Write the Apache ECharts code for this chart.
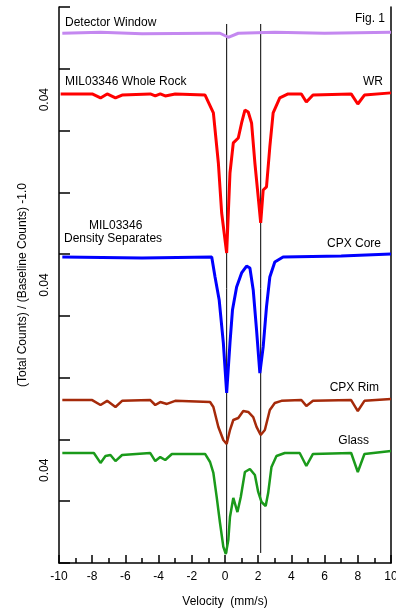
<!DOCTYPE html>
<html>
<head>
<meta charset="utf-8">
<script src="https://cdn.jsdelivr.net/npm/echarts@6/dist/echarts.min.js"></script>
<style>
  html, body { margin: 0; padding: 0; background: #fff; }
  #chart { width: 396px; height: 612px; }
</style>
</head>
<body>
<div id="chart"></div>
<script>
// velocity (mm/s) / offset absorption values
var detectorWindow = [
  [-9.8, 0.3430], [-7.5, 0.3436], [-5.0, 0.3427], [-1.0, 0.3430], [-0.3, 0.3430],
  [0.2, 0.3404], [0.8, 0.3430], [3.0, 0.3436], [6.0, 0.3430], [10.0, 0.3436]
];
var wholeRock = [
  [-9.9, 0.3037], [-8.0, 0.3037], [-7.5, 0.3011], [-7.1, 0.3037], [-6.6, 0.3011],
  [-6.2, 0.3030], [-4.5, 0.3037], [-4.2, 0.3024], [-3.9, 0.3037], [-3.6, 0.3024],
  [-3.0, 0.3037], [-1.2, 0.3030], [-0.7, 0.2914], [-0.4, 0.2590], [-0.2, 0.2266],
  [0.1, 0.2007], [0.3, 0.2525], [0.5, 0.2720], [0.8, 0.2752], [1.0, 0.2849],
  [1.2, 0.2933], [1.4, 0.2920], [1.6, 0.2849], [1.8, 0.2590], [2.0, 0.2370],
  [2.15, 0.2202], [2.3, 0.2415], [2.5, 0.2435], [2.7, 0.2694], [2.9, 0.2914],
  [3.3, 0.3011], [3.8, 0.3037], [4.6, 0.3037], [4.9, 0.2985], [5.3, 0.3030],
  [7.6, 0.3037], [8.0, 0.2972], [8.4, 0.3030], [10.0, 0.3044]
];
var cpxCore = [
  [-9.8, 0.1981], [-5.0, 0.1975], [-0.8, 0.1981], [-0.6, 0.1852], [-0.35, 0.1703],
  [-0.1, 0.1425], [0.1, 0.1101], [0.3, 0.1425], [0.45, 0.1638], [0.7, 0.1787],
  [1.0, 0.1878], [1.3, 0.1923], [1.5, 0.1910], [1.7, 0.1768], [1.9, 0.1509],
  [2.1, 0.1230], [2.3, 0.1399], [2.5, 0.1658], [2.7, 0.1852], [3.0, 0.1949],
  [3.5, 0.1981], [7.0, 0.1988], [10.0, 0.2001]
];
var cpxRim = [
  [-9.8, 0.1055], [-8.0, 0.1055], [-7.5, 0.1023], [-7.1, 0.1050], [-6.6, 0.1010],
  [-6.2, 0.1050], [-4.5, 0.1055], [-4.2, 0.1023], [-3.9, 0.1042], [-3.5, 0.1030],
  [-3.0, 0.1050], [-0.9, 0.1042], [-0.7, 0.1010], [-0.4, 0.0881], [-0.1, 0.0796],
  [0.1, 0.0770], [0.3, 0.0861], [0.5, 0.0926], [0.8, 0.0939], [1.1, 0.0984],
  [1.4, 0.0978], [1.7, 0.0945], [1.9, 0.0881], [2.15, 0.0829], [2.4, 0.0861],
  [2.7, 0.0991], [3.0, 0.1036], [3.4, 0.1050], [4.6, 0.1055], [4.9, 0.1017],
  [5.3, 0.1050], [7.6, 0.1055], [8.0, 0.0984], [8.4, 0.1050], [10.0, 0.1062]
];
var glass = [
  [-9.8, 0.0712], [-7.9, 0.0712], [-7.5, 0.0648], [-7.2, 0.0693], [-6.9, 0.0699],
  [-6.6, 0.0660], [-6.2, 0.0699], [-4.5, 0.0712], [-4.2, 0.0660], [-3.9, 0.0686],
  [-3.6, 0.0667], [-3.2, 0.0706], [-1.2, 0.0706], [-0.9, 0.0654], [-0.7, 0.0583],
  [-0.5, 0.0427], [-0.3, 0.0259], [-0.1, 0.0104], [0.05, 0.0058], [0.2, 0.0149],
  [0.3, 0.0298], [0.5, 0.0421], [0.75, 0.0330], [0.95, 0.0427], [1.2, 0.0589],
  [1.5, 0.0609], [1.8, 0.0570], [2.0, 0.0460], [2.2, 0.0395], [2.45, 0.0369],
  [2.6, 0.0453], [2.8, 0.0622], [3.1, 0.0693], [3.6, 0.0712], [4.5, 0.0712],
  [4.9, 0.0628], [5.3, 0.0706], [7.6, 0.0712], [8.0, 0.0589], [8.4, 0.0706],
  [10.0, 0.0725]
];
// vertical reference lines (velocity) and their extent
var refVelocities = [0.1, 2.15];
var refRange = [0.0065, 0.349];
// scale bar labels sit midway between ticks
var scaleLabelValues = [0.30, 0.18, 0.06];
var scaleLabelText = '0.04';

var FONT = 'Liberation Sans, Arial, sans-serif';

function lineSeries(name, data, color, width) {
  return {
    name: name,
    type: 'line',
    data: data,
    showSymbol: false,
    symbol: 'none',
    lineStyle: { color: color, width: width },
    z: 3
  };
}

function txt(x, y, text, align) {
  return {
    type: 'text',
    left: align === 'right' ? null : x,
    right: align === 'right' ? x : null,
    top: y,
    style: { text: text, fill: '#000', font: '12px ' + FONT }
  };
}

var chart = echarts.init(document.getElementById('chart'));
var series = [
  lineSeries('Detector Window', detectorWindow, '#c488f0', 3),
  lineSeries('WR', wholeRock, '#ff0000', 3),
  lineSeries('CPX Core', cpxCore, '#0000ff', 3),
  lineSeries('CPX Rim', cpxRim, '#a52a0a', 2.5),
  lineSeries('Glass', glass, '#1a9a1a', 2.5)
];
refVelocities.forEach(function (v) {
  series.push({
    type: 'line',
    data: [[v, refRange[0]], [v, refRange[1]]],
    showSymbol: false,
    symbol: 'none',
    lineStyle: { color: '#000', width: 1 },
    z: 2
  });
});

var option = {
  animation: false,
  backgroundColor: '#fff',
  grid: { left: 59, right: 5, top: 7, bottom: 49, outerBoundsMode: 'none' },
  xAxis: {
    type: 'value',
    min: -10,
    max: 10,
    interval: 2,
    name: 'Velocity  (mm/s)',
    nameLocation: 'middle',
    nameGap: 33,
    nameTextStyle: { fontFamily: FONT, fontSize: 12, color: '#000' },
    axisLine: { onZero: false, lineStyle: { color: '#000', width: 1.5 } },
    axisTick: { inside: true, length: 8, lineStyle: { color: '#000', width: 1.5 } },
    minorTick: { show: true, splitNumber: 2, length: 5, lineStyle: { color: '#000', width: 1.5 } },
    axisLabel: { color: '#000', fontFamily: FONT, fontSize: 12, margin: 8 },
    splitLine: { show: false }
  },
  yAxis: [
    {
      type: 'value',
      min: 0,
      max: 0.36,
      interval: 0.04,
      position: 'left',
      name: '(Total Counts) / (Baseline Counts) -1.0',
      nameLocation: 'middle',
      nameGap: 30,
      nameTextStyle: { fontFamily: FONT, fontSize: 12, color: '#000' },
      axisLine: { show: true, onZero: false, lineStyle: { color: '#000', width: 1.5 } },
      axisTick: { inside: true, length: 11, lineStyle: { color: '#000', width: 1.5 } },
      axisLabel: { show: false },
      splitLine: { show: false }
    },
    {
      type: 'value',
      min: 0,
      max: 0.36,
      interval: 0.02,
      position: 'left',
      axisLine: { show: false, onZero: false },
      axisTick: { show: false },
      splitLine: { show: false },
      axisLabel: {
        rotate: 90,
        margin: 8,
        color: '#000',
        fontFamily: FONT,
        fontSize: 12,
        formatter: function (val) {
          for (var i = 0; i < scaleLabelValues.length; i++) {
            if (Math.abs(val - scaleLabelValues[i]) < 1e-6) return scaleLabelText;
          }
          return '';
        }
      }
    },
    {
      type: 'value',
      min: 0,
      max: 0.36,
      position: 'right',
      axisLine: { show: true, onZero: false, lineStyle: { color: '#000', width: 1.5 } },
      axisTick: { show: false },
      axisLabel: { show: false },
      splitLine: { show: false }
    }
  ],
  series: series,
  graphic: [
    txt(65, 17, 'Detector Window'),
    txt(11, 13, 'Fig. 1', 'right'),
    txt(65, 76, 'MIL03346 Whole Rock'),
    txt(13, 76, 'WR', 'right'),
    txt(89, 220, 'MIL03346'),
    txt(64, 233, 'Density Separates'),
    txt(15, 238, 'CPX Core', 'right'),
    txt(17, 382, 'CPX Rim', 'right'),
    txt(27, 435, 'Glass', 'right')
  ]
};
chart.setOption(option);
</script>
</body>
</html>
